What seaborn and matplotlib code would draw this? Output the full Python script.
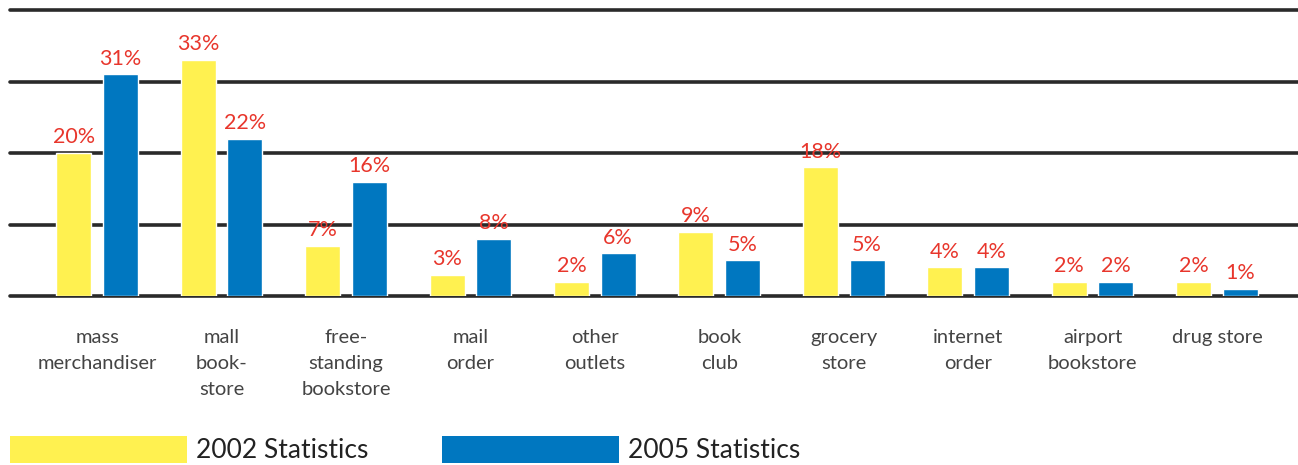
import pandas as pd
import matplotlib.pyplot as plt
import seaborn as sns
from matplotlib.patches import Patch

# Bookstore sales channel shares
categories = ['mass\nmerchandiser', 'mall\nbook-\nstore', 'free-\nstanding\nbookstore',
              'mail\norder', 'other\noutlets', 'book\nclub', 'grocery\nstore',
              'internet\norder', 'airport\nbookstore', 'drug store']
stats_2002 = [20, 33, 7, 3, 2, 9, 18, 4, 2, 2]
stats_2005 = [31, 22, 16, 8, 6, 5, 5, 4, 2, 1]
years = ['2002 Statistics', '2005 Statistics']

df = pd.DataFrame({
    'category': categories * 2,
    'share': stats_2002 + stats_2005,
    'year': [years[0]] * len(categories) + [years[1]] * len(categories),
})

sns.set_style('white')
plt.rcParams['font.family'] = ['Lato', 'DejaVu Sans']

colors = {years[0]: '#fff150', years[1]: '#0077c0'}

fig = plt.figure(figsize=(12.98, 4.65), dpi=100)
ax = fig.add_axes([0.0077, 0.3634, 0.9923, 0.6151])

sns.barplot(data=df, x='category', y='share', hue='year', palette=colors,
            width=0.75, gap=0.25, saturation=1, legend=False, ax=ax)

# value labels on top of bars
for cont in ax.containers:
    ax.bar_label(cont, fmt='%d%%', color='#e8362c', fontsize=15.5, padding=4)

ax.set_ylim(0, 40)
ax.set_xlim(-0.7, 9.65)
ax.set_yticks([0, 10, 20, 30, 40])
ax.set_yticklabels([])
for y in [0, 10, 20, 30, 40]:
    ax.axhline(y, color='#2a2a2a', lw=2.6, zorder=0, clip_on=False)
for s in ax.spines.values():
    s.set_visible(False)
ax.tick_params(axis='both', length=0)
ax.tick_params(axis='x', pad=23.5)
ax.set_xlabel('')
ax.set_ylabel('')
ax.set_xticks(range(len(categories)))
ax.set_xticklabels(categories, fontsize=14.5, color='#444444', va='top')

handles = [Patch(facecolor=colors[y], edgecolor='none', label=y) for y in years]
fig.legend(handles=handles, loc='upper left', bbox_to_anchor=(0.0077, 0.063),
           ncol=2, frameon=False, fontsize=19, handlelength=6.7, handleheight=1.2,
           handletextpad=0.35, columnspacing=2.8, borderpad=0, borderaxespad=0,
           labelcolor='#222222')

# tick labels get rebuilt on draw, so set line spacing afterwards
fig.canvas.draw()
for lbl in ax.get_xticklabels():
    lbl.set_linespacing(1.65)

plt.savefig('out.png', dpi=100)
